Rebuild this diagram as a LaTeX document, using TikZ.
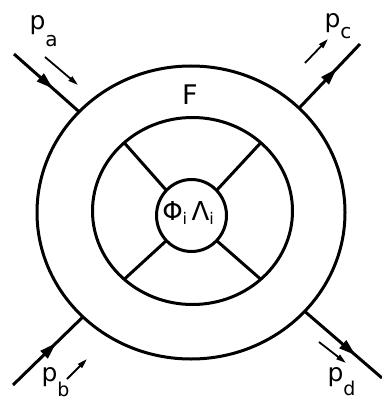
\documentclass[tikz,border=0pt]{standalone}
\usepackage{fontspec}
\setmainfont{DejaVu Sans}
\usetikzlibrary{shapes.geometric,arrows.meta,decorations.markings}
\newcommand\lowsub[3][20]{\raisebox{-#2pt}{\fontsize{#1}{#1}\selectfont #3}}
\begin{document}
\begin{tikzpicture}[x=1pt,y=-1pt,line width=3pt,
  ring/.style={ellipse,draw,inner sep=0pt,outer sep=0pt},
  ext/.style={postaction={decorate},decoration={markings,
     mark=at position #1 with {\arrow{Triangle[length=17pt,width=10pt]}}}},
  flow/.style={line width=1.8pt,-{Triangle[length=10pt,width=5.5pt]}},
  lab/.style={inner sep=0pt,anchor=base west,font=\fontsize{25}{25}\selectfont}]
\useasboundingbox (0,0) rectangle (382,404);
\node[ring,minimum width=308pt,minimum height=293pt] (outer) at (191,212.5) {};
\node[ring,minimum width=200pt,minimum height=187pt] (mid) at (192.5,211) {};
\node[ring,minimum width=70pt,minimum height=72pt] (core) at (191.5,215.5) {};
\foreach \a in {45,135,225,315} \draw (core.\a) -- (mid.\a);
% external legs
\coordinate (a0) at (14,54);
\coordinate (b0) at (13,385);
\coordinate (c0) at (360,44);
\coordinate (d0) at (382,378);
\draw[ext=0.6] (a0) -- (outer.138);
\draw[ext=0.62] (b0) -- (outer.224);
\draw[ext=0.62] (outer.44) -- (c0);
\draw[ext=0.66] (outer.319.6) -- (d0);
% small momentum arrows
\coordinate (fa0) at (45,57); \coordinate (fa1) at (78,85);
\coordinate (fb0) at (67,379); \coordinate (fb1) at (87,359);
\coordinate (fc0) at (305,63); \coordinate (fc1) at (328,39);
\coordinate (fd0) at (319,342); \coordinate (fd1) at (346,363);
\draw[flow] (fa0) -- (fa1);
\draw[flow] (fb0) -- (fb1);
\draw[flow] (fc0) -- (fc1);
\draw[flow] (fd0) -- (fd1);
% labels
\node[lab] (la) at (28,30) {p\lowsub{17}{a}};
\node[lab] (lc) at (323,28) {p\lowsub{10}{c}};
\node[lab] (lb) at (40,381) {p\lowsub[19]{15}{b}};
\node[lab] (ld) at (326,381) {p\lowsub[19]{14}{d}};
\node[inner sep=0pt,font=\fontsize{27}{27}\selectfont] (F) at (190,95) {F};
\node[inner sep=0pt,font=\fontsize{26}{26}\selectfont] (phi) at (188,213) {Φ\lowsub[16]{4}{i}\,Λ\lowsub[16]{4}{i}};
\end{tikzpicture}
\end{document}
